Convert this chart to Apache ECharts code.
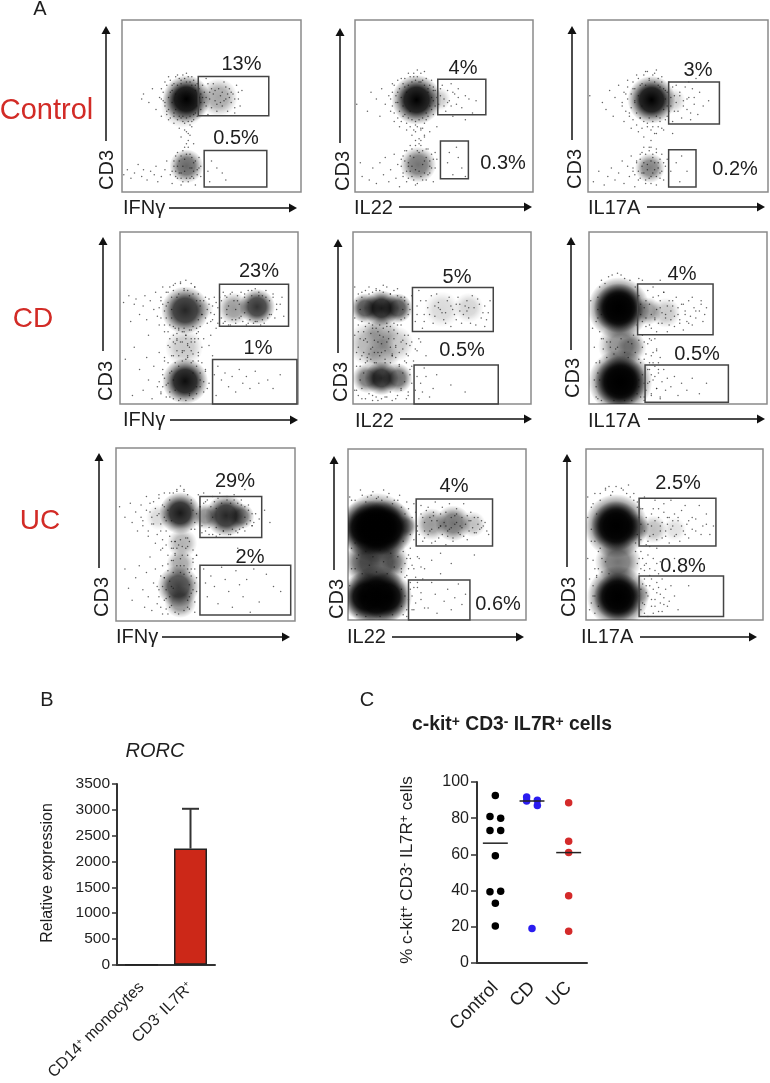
<!DOCTYPE html>
<html><head><meta charset="utf-8">
<style>html,body{margin:0;padding:0;background:#fff}#c{width:770px;height:1083px}</style>
<script src="https://cdn.jsdelivr.net/npm/echarts@6/dist/echarts.min.js"></script></head>
<body><div id="c"></div>
<script>
// ---------- DATA ----------
// Flow panels: clouds are [x%, y%, spread, density]; events are [x%, y%]; gates are [x0,x1,y0,y1] in %.
const clouds_ctrl_ifn=[[36,54,48,1],[34,50,44,.3],[54,55,38,.35],[36,15,34,.6]];
const clouds_ctrl_il22=[[34.6,53.6,50,1],[35.5,15.9,36,.55],[47,54,24,.2]];
const clouds_ctrl_il17=[[35.3,53.6,48,1],[34.4,14,30,.5],[47,53,26,.18]];
const clouds_cd_ifn=[[36.6,54.5,48,.85],[36.6,13.3,46,.95],[77,56.5,36,.8],[64,55.5,32,.4],[36,33,38,.22],[47,55,20,.15]];
const clouds_cd_il22=[[7,55.7,30,.7],[16,55.7,36,.9],[25,55.7,30,.7],[8,15,30,.55],[16,15,34,.85],[25,15,30,.6],[10,35,46,.3],[24,35,36,.22],[16,42,36,.25],[16,28,36,.25],[50,55,36,.15],[65,56,30,.17]];
const clouds_cd_il17=[[16.7,55.7,62,1],[16.7,55.7,50,1],[17.6,13,64,1],[17.6,13,52,1],[18,34,46,.45],[24,33,30,.3],[33,54,28,.4],[43,53,30,.22]];
const clouds_uc_ifn=[[35.8,62.4,42,.9],[61.5,60.9,42,.85],[50,60.5,26,.45],[70,60.5,26,.55],[34.8,20,42,.75],[36,11,32,.45],[36,33,28,.35],[37,45,30,.3],[24,60,26,.15]];
const clouds_uc_il22=[[16,54,70,1],[10,54,56,1],[22,54,56,1],[16,54,56,1],[16,13.6,62,1],[10,13.6,50,1],[22,13.6,50,1],[16,34,64,.65],[8,34,36,.35],[26,34,26,.3],[47,56,32,.4],[59,56.5,36,.55],[70,56,26,.25],[33,55,22,.4]];
const clouds_uc_il17=[[17,55,64,1],[17,55,50,1],[18,13.6,62,1],[18,13.6,48,1],[18,34,46,.55],[28,54,28,.4],[38,53,28,.25],[50,53,24,.12],[31,15,20,.25]];

const events_ctrl_ifn=[[12,57],[15,52],[11,54],[17,60],[19,48],[22,60],[22,44],[24,64],[26,42],[26,67],[28,62],[29,46],[29,40],[31,68],[32,37],[33,65],[34,41],[35,36],[36,69],[37,34],[38,39],[39,67],[40,42],[41,62],[42,44],[24,50],[21,55],[27,58],[25,47],[23,53],[33,32],[37,30],[40,28],[38,33],[44,48],[45,62],[46,52],[47,66],[48,45],[49,58],[50,49],[51,63],[52,53],[53,47],[54,60],[55,56],[56,50],[57,64],[58,54],[59,47],[60,60],[61,52],[62,57],[63,49],[64,62],[65,54],[66,50],[67,59],[63,46],[58,61],[48,63],[51,57],[55,52],[60,55],[1,10],[3,13],[5,8],[7,11],[9,16],[11,9],[12,13],[14,7],[16,12],[18,10],[19,15],[20,6],[22,9],[24,13],[25,18],[27,10],[28,5],[29,15],[30,21],[31,8],[32,18],[33,4],[34,24],[35,12],[36,28],[37,6],[38,22],[39,9],[40,17],[41,4],[42,13],[43,20],[44,9],[33,11],[38,14],[35,19],[40,12],[30,12],[48,12],[50,18],[53,14],[56,11],[58,7],[49,6]];
const fringe_ctrl_ifn=[[22,54],[23,58],[24,52],[25,62],[25,45],[26,55],[26,48],[27,65],[27,43],[28,52],[28,59],[29,63],[29,44],[30,48],[30,67],[30,57],[31,42],[31,62],[32,66],[32,44],[33,63],[33,43],[34,68],[34,44],[35,40],[35,66],[36,64],[36,43],[37,67],[37,41],[38,64],[38,44],[39,62],[39,41],[40,65],[40,45],[41,59],[41,46],[42,63],[42,50],[43,55],[43,60],[44,52],[44,57],[45,55],[46,58],[47,50],[47,55],[49,54],[50,60],[52,59],[53,51],[56,58],[57,53],[59,57],[61,58],[63,54],[65,58],[28,12],[29,18],[30,9],[31,15],[31,23],[32,11],[33,8],[33,21],[34,15],[34,6],[35,26],[36,8],[36,22],[37,26],[38,8],[39,20],[39,14],[40,8],[41,18],[42,10],[43,14],[44,15],[36,35],[39,38]];
const events_ctrl_il22=[[1,51],[7,47],[9,58],[12,54],[14,44],[15,60],[17,51],[19,56],[20,47],[21,63],[22,41],[23,52],[24,58],[25,38],[26,66],[27,44],[28,61],[29,36],[30,69],[31,47],[32,33],[33,67],[34,39],[35,71],[36,31],[37,64],[38,37],[39,70],[40,42],[41,60],[42,35],[43,65],[44,45],[45,59],[46,38],[37,27],[39,32],[34,30],[48,56],[49,62],[50,50],[51,47],[52,59],[53,53],[54,63],[55,44],[56,57],[57,51],[58,60],[60,49],[62,56],[64,54],[68,53],[66,46],[62,42],[44,61],[47,51],[3,17],[4,9],[8,7],[10,14],[12,5],[14,17],[16,10],[17,20],[19,6],[20,13],[22,22],[23,8],[24,16],[25,3],[26,19],[27,11],[28,24],[29,6],[30,15],[31,27],[32,9],[33,20],[34,4],[35,24],[36,12],[37,30],[38,7],[39,18],[40,25],[41,10],[42,15],[43,22],[44,6],[45,14],[46,19],[52,17],[55,10],[58,20],[60,14],[53,23],[57,26],[62,9]];
const fringe_ctrl_il22=[[20,54],[21,50],[21,58],[22,62],[22,46],[23,56],[24,52],[24,43],[24,65],[25,60],[25,47],[26,41],[26,55],[27,63],[27,50],[28,45],[28,66],[29,58],[29,40],[30,62],[30,43],[31,67],[31,38],[32,64],[32,42],[33,36],[33,69],[34,41],[34,65],[35,38],[35,67],[36,42],[36,64],[37,37],[37,69],[38,43],[38,65],[39,40],[39,62],[40,46],[40,66],[41,44],[41,58],[42,50],[42,62],[43,48],[43,55],[44,53],[44,59],[45,50],[46,55],[48,60],[50,54],[52,52],[54,50],[55,58],[58,55],[26,15],[27,9],[27,21],[28,18],[29,12],[29,24],[30,8],[30,17],[31,21],[31,12],[32,25],[32,15],[33,7],[34,27],[34,13],[35,5],[36,23],[36,28],[37,9],[38,24],[38,16],[39,11],[40,20],[40,7],[41,25],[42,18],[42,11],[43,14],[44,19],[45,23],[34,35],[37,36],[39,33]];
const events_ctrl_il17=[[1,56],[8,52],[10,48],[12,59],[14,44],[15,55],[17,62],[19,50],[20,41],[21,57],[22,65],[23,46],[24,37],[25,60],[26,52],[27,68],[28,35],[29,43],[30,63],[31,32],[32,70],[33,40],[34,66],[35,30],[36,38],[37,69],[38,34],[39,62],[40,41],[41,67],[42,36],[43,59],[44,44],[45,64],[46,50],[47,41],[48,56],[49,62],[50,47],[51,58],[52,43],[53,53],[54,61],[55,48],[56,55],[57,42],[58,60],[59,51],[61,45],[62,58],[64,50],[67,53],[60,66],[56,64],[47,34],[35,26],[38,23],[3,6],[6,12],[9,4],[11,9],[13,14],[15,7],[17,11],[19,18],[20,5],[22,15],[23,9],[24,21],[25,12],[26,3],[27,17],[28,7],[29,22],[30,11],[31,26],[32,5],[33,16],[34,24],[35,9],[36,20],[37,13],[38,4],[39,17],[40,11],[41,22],[42,7],[43,15],[44,19],[46,12],[49,17],[52,21],[55,12],[51,6]];
const fringe_ctrl_il17=[[19,52],[20,58],[21,47],[22,54],[22,61],[23,44],[24,57],[24,49],[25,64],[25,42],[26,53],[26,60],[27,46],[27,39],[28,66],[28,56],[29,43],[29,62],[30,37],[30,50],[31,68],[31,41],[32,62],[33,38],[33,70],[34,43],[34,65],[35,36],[36,68],[36,41],[37,64],[37,34],[38,44],[38,71],[39,38],[39,66],[40,43],[40,61],[41,37],[41,64],[42,48],[42,60],[43,54],[43,42],[44,58],[44,50],[45,47],[46,55],[47,61],[48,47],[49,52],[51,56],[53,50],[55,54],[57,46],[59,55],[25,14],[26,10],[27,18],[28,12],[29,19],[29,8],[30,15],[30,23],[31,11],[31,17],[32,7],[32,22],[33,13],[34,26],[34,8],[35,18],[35,5],[36,22],[36,11],[37,17],[38,9],[38,25],[39,14],[40,19],[40,8],[41,12],[42,17]];
const events_cd_ifn=[[2,59],[5,63],[6,48],[8,58],[9,61],[11,52],[13,57],[14,63],[15,49],[16,40],[17,60],[19,55],[20,65],[21,51],[22,46],[23,60],[24,68],[25,42],[26,57],[27,65],[28,38],[29,50],[30,69],[31,35],[32,62],[33,44],[34,70],[35,31],[36,66],[37,40],[38,28],[39,63],[40,36],[41,25],[42,68],[43,44],[44,30],[45,60],[46,52],[47,38],[48,62],[49,47],[50,58],[51,53],[52,49],[53,62],[54,44],[55,56],[56,50],[57,60],[58,47],[59,63],[60,52],[61,57],[62,46],[63,65],[65,49],[66,60],[68,51],[70,64],[72,47],[74,66],[76,48],[78,63],[80,49],[82,66],[84,52],[86,62],[88,55],[90,58],[92,51],[91,62],[3,26],[7,5],[8,33],[11,20],[13,8],[15,27],[16,14],[18,3],[19,22],[21,10],[22,30],[23,6],[24,17],[25,25],[26,11],[27,34],[28,4],[29,19],[30,28],[31,8],[32,37],[33,22],[34,3],[35,30],[36,42],[37,26],[38,35],[39,6],[40,31],[41,18],[42,38],[43,10],[44,25],[45,14],[46,33],[47,7],[48,20],[50,12],[51,40],[53,17],[54,5],[55,22],[57,14],[59,18],[61,10],[63,16],[65,7],[67,20],[69,12],[71,16],[73,9],[76,19],[78,12],[83,14],[86,9],[90,17],[30,45],[44,42],[50,34],[52,28]];
const fringe_cd_ifn=[[22,56],[23,50],[23,62],[24,58],[25,46],[25,54],[26,65],[26,50],[27,42],[27,59],[28,68],[28,46],[29,55],[29,62],[30,40],[30,66],[31,44],[31,70],[32,38],[33,64],[33,43],[34,71],[35,36],[35,42],[36,67],[37,40],[37,72],[38,34],[38,66],[39,43],[40,70],[40,38],[41,45],[41,64],[42,68],[43,41],[43,60],[44,49],[44,64],[45,57],[45,45],[46,52],[47,60],[48,50],[49,55],[50,61],[51,48],[52,57],[53,52],[54,59],[55,47],[56,62],[57,50],[58,65],[59,48],[60,62],[61,46],[62,64],[63,49],[64,60],[65,47],[66,63],[67,50],[68,65],[69,48],[70,62],[71,46],[72,66],[73,49],[74,63],[75,47],[76,67],[77,48],[78,65],[79,46],[80,63],[81,47],[82,62],[83,50],[84,60],[85,52],[86,64],[87,50],[88,58],[65,55],[70,53],[72,59],[67,58],[60,55],[22,13],[23,7],[24,20],[24,10],[25,15],[25,27],[26,4],[27,12],[27,24],[28,18],[28,7],[29,28],[30,14],[30,3],[31,24],[32,31],[33,2],[33,28],[34,36],[35,25],[36,31],[37,2],[37,38],[38,27],[39,5],[39,33],[40,24],[41,3],[41,29],[42,36],[43,22],[43,6],[44,28],[45,18],[45,10],[46,24],[47,13],[48,19],[49,9],[36,44],[32,41],[40,43],[44,38],[30,36],[28,33]];
const events_cd_il22=[[1,68],[3,42],[5,65],[7,38],[9,68],[11,44],[13,66],[15,40],[17,69],[19,45],[21,64],[23,43],[25,67],[27,46],[29,62],[31,40],[33,63],[35,48],[37,66],[39,44],[41,60],[43,52],[45,47],[47,64],[49,55],[51,49],[53,60],[55,45],[57,52],[59,62],[61,47],[63,57],[65,50],[67,63],[69,46],[71,58],[73,53],[75,49],[77,60],[74,45],[36,57],[40,52],[46,57],[52,53],[58,58],[64,54],[2,30],[4,22],[6,37],[8,27],[10,32],[12,24],[14,36],[16,30],[18,24],[20,38],[22,28],[24,33],[26,23],[28,37],[30,29],[32,34],[34,25],[36,31],[38,36],[41,28],[2,8],[5,3],[8,25],[11,5],[14,2],[18,4],[21,7],[24,3],[27,8],[29,25],[31,5],[33,12],[32,20],[35,8],[36,16],[37,3],[38,12],[39,7],[41,16],[43,4],[45,9],[47,17],[40,21],[55,11],[63,7]];
const fringe_cd_il22=[[1,50],[2,60],[3,46],[3,64],[5,48],[5,62],[7,45],[7,66],[9,47],[9,64],[11,46],[11,65],[13,44],[13,67],[15,46],[15,66],[17,44],[17,65],[19,47],[19,68],[21,45],[21,64],[23,47],[23,66],[25,46],[25,63],[27,49],[27,62],[29,50],[29,60],[31,52],[31,58],[4,55],[28,55],[32,55],[1,40],[3,33],[4,38],[6,30],[6,42],[8,36],[9,29],[10,41],[11,33],[12,37],[14,30],[14,42],[16,35],[17,39],[18,31],[19,36],[20,42],[21,33],[22,29],[23,38],[24,34],[25,41],[26,30],[27,36],[28,32],[29,40],[30,35],[31,28],[33,36],[35,32],[37,38],[1,8],[2,22],[3,5],[4,14],[4,26],[5,9],[6,18],[7,3],[7,24],[9,6],[10,26],[11,2],[13,24],[13,4],[15,28],[16,3],[18,26],[19,4],[21,24],[22,2],[24,27],[25,5],[26,22],[27,9],[28,18],[29,13],[30,24],[31,7],[32,17],[33,22],[30,3],[5,28],[12,30],[22,28],[36,52],[38,60],[40,48],[42,56],[44,63],[46,51],[48,59],[50,53],[52,47],[54,62],[56,55],[58,49],[60,58],[62,52],[64,60],[66,47],[68,56],[70,61],[72,50],[74,57],[76,53],[55,57],[60,54],[65,56],[48,56]];
const events_cd_il17=[[1,60],[2,44],[3,33],[4,24],[5,50],[6,14],[7,38],[4,4],[33,66],[35,44],[36,68],[37,50],[38,42],[39,63],[40,56],[41,47],[42,65],[43,52],[44,42],[45,60],[46,49],[47,57],[48,45],[49,62],[50,52],[51,47],[52,58],[53,43],[54,54],[55,48],[56,60],[57,51],[58,46],[59,56],[60,50],[62,54],[64,48],[66,56],[63,60],[30,72],[28,73],[40,72],[33,35],[35,28],[37,38],[39,24],[31,26],[33,12],[34,20],[35,6],[36,14],[37,22],[38,9],[39,18],[40,4],[41,13],[42,20],[43,8],[44,15],[46,10],[48,16],[50,5],[52,12],[55,8],[58,15],[62,6],[66,12],[38,32],[35,17],[30,40],[32,45],[34,38],[29,24],[27,6],[28,14],[31,4],[14,2],[20,2]];
const fringe_cd_il17=[[5,55],[4,48],[5,62],[6,42],[6,68],[7,52],[7,72],[8,38],[9,70],[10,36],[11,74],[12,33],[13,75],[15,32],[16,76],[18,75],[20,73],[22,36],[23,72],[25,40],[26,68],[27,46],[28,63],[29,52],[29,58],[30,48],[31,56],[32,50],[32,60],[34,46],[34,58],[35,52],[36,62],[37,49],[38,55],[39,47],[40,60],[41,53],[42,65],[43,50],[44,57],[45,46],[46,54],[47,60],[48,51],[50,56],[51,49],[53,58],[54,52],[56,47],[58,62],[60,54],[63,58],[65,52],[6,25],[8,32],[10,27],[12,36],[14,29],[16,33],[18,38],[20,30],[22,27],[24,35],[26,30],[28,26],[30,33],[32,29],[34,24],[28,37],[31,36],[36,30],[35,37],[38,31],[40,27],[4,10],[5,3],[5,18],[6,24],[3,14],[28,10],[29,4],[30,17],[31,12],[31,2],[32,8],[33,20],[34,13],[35,5],[36,24],[37,16],[38,9],[39,20],[40,3],[7,2],[24,2]];
const events_uc_ifn=[[2,66],[5,60],[8,68],[9,57],[11,63],[12,52],[14,67],[15,58],[17,72],[18,49],[19,63],[20,56],[21,69],[22,45],[23,61],[24,73],[25,52],[26,42],[27,66],[28,58],[29,38],[30,74],[31,46],[32,35],[34,76],[36,32],[38,75],[40,43],[41,28],[42,70],[43,36],[44,53],[45,25],[46,73],[47,66],[48,51],[49,74],[50,69],[52,50],[54,72],[56,49],[58,74],[60,52],[62,70],[64,50],[66,73],[68,51],[70,70],[72,52],[74,67],[76,55],[78,62],[80,59],[83,64],[86,57],[68,42],[72,76],[5,30],[7,19],[9,12],[11,25],[13,32],[15,18],[16,8],[17,28],[18,14],[19,37],[20,6],[21,22],[22,30],[23,10],[24,18],[25,41],[26,4],[27,25],[28,13],[29,33],[30,8],[31,20],[32,42],[40,8],[41,14],[42,30],[43,18],[45,38],[44,5],[49,30],[50,22],[51,14],[53,26],[55,20],[57,10],[59,31],[61,24],[63,17],[65,8],[67,29],[69,21],[71,14],[73,24],[77,30],[80,11],[88,20],[92,17],[84,27],[75,5]];
const fringe_uc_ifn=[[14,60],[15,55],[17,64],[18,52],[19,68],[20,60],[21,56],[22,65],[23,50],[24,62],[24,71],[25,56],[26,67],[26,47],[27,60],[27,74],[28,52],[28,44],[29,64],[30,70],[30,49],[31,42],[31,58],[32,74],[33,46],[33,39],[34,75],[35,44],[36,36],[36,78],[37,43],[38,76],[38,32],[39,48],[40,73],[40,38],[41,46],[42,68],[42,53],[43,64],[43,41],[44,57],[44,30],[45,62],[45,38],[47,66],[48,55],[49,68],[50,52],[51,70],[52,54],[53,66],[54,50],[55,69],[56,54],[57,71],[58,50],[59,68],[60,52],[62,72],[63,50],[64,68],[65,53],[66,70],[67,52],[68,68],[69,53],[70,67],[71,54],[72,66],[73,56],[74,64],[75,58],[76,62],[77,57],[54,60],[56,65],[72,60],[76,55],[23,20],[24,14],[25,26],[25,8],[26,20],[26,32],[27,12],[27,25],[28,7],[28,18],[29,29],[29,4],[30,14],[30,23],[31,35],[31,9],[32,19],[32,28],[33,5],[33,38],[34,32],[35,4],[36,28],[37,38],[38,6],[38,27],[39,42],[40,12],[40,30],[41,21],[41,7],[42,26],[42,16],[43,34],[44,22],[44,11],[45,17],[34,42],[36,47],[40,48],[33,46]];
const events_uc_il22=[[2,70],[5,36],[8,73],[11,72],[14,75],[17,72],[20,76],[23,74],[26,70],[29,73],[31,46],[33,69],[35,42],[37,68],[39,52],[41,67],[43,48],[45,66],[47,45],[49,69],[51,48],[53,66],[55,44],[57,68],[59,46],[61,65],[63,50],[65,68],[67,47],[69,63],[71,51],[73,60],[75,54],[77,57],[79,50],[42,60],[46,52],[48,61],[52,55],[56,52],[60,61],[64,54],[68,58],[34,38],[36,32],[38,25],[39,19],[41,12],[43,30],[45,7],[47,22],[49,15],[50,4],[52,27],[54,11],[56,18],[58,6],[60,13],[62,21],[64,9],[66,15],[35,22],[36,14],[37,6],[40,36],[47,35],[52,39],[58,33],[71,38],[30,30],[32,25],[33,36],[30,8],[33,2],[25,3],[18,2],[10,2],[5,3],[2,30],[4,45],[1,20]];
const fringe_uc_il22=[[1,72],[4,70],[7,76],[10,69],[13,73],[16,71],[19,70],[22,72],[25,68],[28,70],[30,66],[32,62],[34,65],[35,50],[36,60],[37,47],[38,63],[39,55],[40,50],[41,62],[42,46],[43,57],[44,64],[45,50],[46,60],[47,53],[48,63],[49,46],[50,58],[51,54],[52,62],[53,50],[54,57],[55,63],[56,49],[57,53],[58,60],[59,48],[60,56],[61,62],[62,51],[63,55],[64,60],[65,49],[66,56],[67,61],[68,52],[69,58],[70,54],[71,60],[72,51],[73,56],[74,53],[75,58],[76,55],[78,52],[58,54],[55,55],[61,57],[52,55],[47,58],[43,52],[2,42],[4,30],[6,38],[8,27],[10,40],[12,32],[14,37],[16,28],[18,41],[20,34],[22,27],[24,39],[26,31],[28,37],[30,28],[31,40],[32,33],[33,26],[34,30],[35,36],[33,6],[32,14],[31,3],[30,18],[34,12],[35,18],[36,6],[37,19],[38,10],[39,22],[41,16],[43,7],[37,30],[39,37],[41,31],[42,24]];
const events_uc_il17=[[1,72],[3,66],[5,74],[8,70],[11,76],[14,73],[17,78],[21,76],[24,79],[27,74],[29,69],[31,65],[33,72],[35,46],[37,62],[38,50],[39,70],[40,42],[41,65],[42,55],[43,48],[44,68],[45,52],[46,60],[47,45],[48,70],[49,55],[50,62],[51,50],[52,58],[53,46],[54,64],[55,52],[56,67],[57,56],[58,48],[60,60],[62,52],[64,67],[66,55],[68,62],[70,50],[1,36],[2,24],[3,46],[4,14],[5,30],[2,6],[31,30],[33,24],[35,38],[30,36],[31,18],[32,10],[33,4],[34,20],[35,14],[36,26],[37,8],[38,18],[39,12],[40,22],[41,5],[42,15],[43,24],[44,9],[33,32],[28,40],[45,18],[47,11],[40,33],[50,36],[54,28],[58,20]];
const fringe_uc_il17=[[1,60],[3,53],[4,68],[5,46],[6,62],[7,40],[8,74],[9,36],[11,77],[13,78],[15,75],[20,77],[23,74],[25,72],[27,70],[28,45],[29,66],[29,50],[30,60],[31,56],[31,47],[32,65],[33,52],[34,60],[35,56],[36,49],[37,55],[38,65],[39,58],[40,47],[41,60],[42,52],[43,57],[44,63],[45,49],[46,56],[47,60],[48,53],[49,58],[50,49],[52,60],[54,55],[56,50],[58,58],[60,53],[62,59],[65,50],[68,56],[72,55],[36,43],[34,44],[4,35],[6,26],[7,30],[8,42],[9,28],[11,34],[13,27],[29,33],[30,27],[31,40],[32,36],[33,29],[34,33],[36,30],[37,24],[38,36],[39,29],[41,27],[42,34],[3,10],[4,20],[5,4],[5,14],[6,25],[7,8],[30,14],[31,6],[32,21],[33,9],[34,16],[35,2],[36,20],[37,12],[38,4],[39,8],[40,16],[41,19],[42,10],[43,5],[44,13],[46,8],[48,20],[50,14],[52,6]];

const gates_ctrl_ifn=[[42.6,82,44.3,67.1],[45.9,80.9,2.9,24.2]];
const gates_ctrl_il22=[[46.5,73.5,44.9,65.6],[48,63.7,7.7,29.6]];
const gates_ctrl_il17=[[44.8,73,39.5,64],[44.8,60,2.9,24.6]];
const gates_cd_ifn=[[55.9,94.7,45.2,69.6],[52,99.4,0,25.9]];
const gates_cd_il22=[[33.4,78.8,42.1,67.8],[34.3,81.6,0,22.7]];
const gates_cd_il17=[[27.3,69.7,40.2,69.7],[31.5,78.3,1,22.7]];
const gates_uc_ifn=[[46.9,81.4,48.2,71.9],[46.9,97.6,3.5,32.2]];
const gates_uc_il22=[[38.3,81.2,43.3,70.8],[34,68.5,0,23.4]];
const gates_uc_il17=[[30,73.4,43.3,71.2],[30,77.7,2,25.7]];

const markers=['IFNγ','IL22','IL17A'];
const groupNames=['Control','CD','UC'];
const pctLabels=[['13%','0.5%'],['4%','0.3%'],['3%','0.2%'],['23%','1%'],['5%','0.5%'],['4%','0.5%'],['29%','2%'],['4%','0.6%'],['2.5%','0.8%']];

// Panel B
const rorcCategories=['CD14+ monocytes','CD3- IL7R+'];
const rorcMeans=[0,2250];
const rorcUpper=[null,3020];
const rorcTicks={min:0,max:3500,interval:500};
// Panel C: [x-jitter position, value]
const groupC=['Control','CD','UC'];
const controlPoints=[[0,92.5],[-0.146,81],[0.146,80],[-0.146,73.2],[0.146,73.2],[0,59.3],[-0.146,39.4],[0.146,39.6],[0,33],[0,20.5]];
const cdPoints=[[0.854,91.7],[0.854,89.5],[1.146,89.9],[1.146,87],[1,19]];
const ucPoints=[[2,88.6],[2,67.2],[2,61],[2,37.2],[2,17.6]];
const groupMeans=[66.2,89.5,61];

// ---------- LAYOUT ----------
const FONT='"Liberation Sans",Arial,sans-serif';
const RED='#d22b26',INK='#1e1e1e';
const panels=[
{c:clouds_ctrl_ifn,e:events_ctrl_ifn.concat(fringe_ctrl_ifn),g:gates_ctrl_ifn,m:0,l:122,r:301,t:20,b:192,vx:106,vt:26,vb:141,cx:107,cy:170,lx:123,ly:208,ax0:169,ax1:297,ay:208,p:[[241.5,64],[236,138]]},
{c:clouds_ctrl_il22,e:events_ctrl_il22.concat(fringe_ctrl_il22),g:gates_ctrl_il22,m:1,l:355,r:533,t:20,b:192,vx:340,vt:28,vb:143,cx:343,cy:171,lx:354,ly:208,ax0:399,ax1:532,ay:207,p:[[463,68],[503,163]]},
{c:clouds_ctrl_il17,e:events_ctrl_il17.concat(fringe_ctrl_il17),g:gates_ctrl_il17,m:2,l:588,r:768,t:20,b:192,vx:572,vt:26,vb:140,cx:575,cy:169,lx:588,ly:208,ax0:647,ax1:765,ay:207,p:[[698,70],[735,169]]},
{c:clouds_cd_ifn,e:events_cd_ifn.concat(fringe_cd_ifn),g:gates_cd_ifn,m:0,l:120,r:298,t:232,b:404,vx:103,vt:237,vb:351,cx:106,cy:381,lx:123,ly:420,ax0:170,ax1:298,ay:420,p:[[259,271],[258,348]]},
{c:clouds_cd_il22,e:events_cd_il22.concat(fringe_cd_il22),g:gates_cd_il22,m:1,l:353,r:531,t:232,b:404,vx:338,vt:239,vb:353,cx:341,cy:382,lx:355,ly:421,ax0:400,ax1:532,ay:419,p:[[457,277],[462,350]]},
{c:clouds_cd_il17,e:events_cd_il17.concat(fringe_cd_il17),g:gates_cd_il17,m:2,l:589,r:767,t:232,b:404,vx:571,vt:237,vb:350,cx:573,cy:378,lx:588,ly:421,ax0:648,ax1:765,ay:419,p:[[682,274],[697,354]]},
{c:clouds_uc_ifn,e:events_uc_ifn.concat(fringe_uc_ifn),g:gates_uc_ifn,m:0,l:116,r:295,t:448,b:621,vx:99,vt:453,vb:568,cx:102,cy:597,lx:116,ly:637,ax0:162,ax1:290,ay:637,p:[[235,481],[250,557]]},
{c:clouds_uc_il22,e:events_uc_il22.concat(fringe_uc_il22),g:gates_uc_il22,m:1,l:348,r:526,t:449,b:620,vx:334,vt:456,vb:570,cx:337,cy:599,lx:347,ly:637,ax0:392,ax1:524,ay:637,p:[[454,486],[498,604]]},
{c:clouds_uc_il17,e:events_uc_il17.concat(fringe_uc_il17),g:gates_uc_il17,m:2,l:586,r:763,t:449,b:620,vx:567,vt:454,vb:567,cx:569,cy:597,lx:581,ly:637,ax0:640,ax1:757,ay:637,p:[[678,483],[683,566]]}
];
const grids=[],xAxes=[],yAxes=[],series=[],graphic=[];
function txt(s,x,y,size,o){o=o||{};graphic.push({type:'text',x:x,y:y,rotation:o.rot||0,z:50,style:Object.assign({text:s,fill:o.color||INK,font:(o.style?o.style+' ':'')+size+'px '+FONT,align:o.align||'center',verticalAlign:'middle'},o.extra||{})});}
function arrowV(x,t,b){graphic.push({type:'line',z:50,shape:{x1:x,y1:b,x2:x,y2:t+5},style:{stroke:'#111',lineWidth:1.5}});
 graphic.push({type:'polygon',z:50,shape:{points:[[x,t],[x-4.5,t+8],[x+4.5,t+8]]},style:{fill:'#111'}});}
function arrowH(a,b,y){graphic.push({type:'line',z:50,shape:{x1:a,y1:y,x2:b-5,y2:y},style:{stroke:'#111',lineWidth:1.5}});
 graphic.push({type:'polygon',z:50,shape:{points:[[b,y],[b-8,y-4.5],[b-8,y+4.5]]},style:{fill:'#111'}});}
function cloudColor(a){return new echarts.graphic.RadialGradient(.5,.5,.5,[{offset:0,color:'rgba(0,0,0,'+a+')'},{offset:.5,color:'rgba(0,0,0,'+(a*.85)+')'},{offset:.8,color:'rgba(0,0,0,'+(a*.3)+')'},{offset:1,color:'rgba(0,0,0,0)'}]);}
panels.forEach(function(p,i){
 grids.push({left:p.l,top:p.t,width:p.r-p.l,height:p.b-p.t,show:true,borderColor:'#8a8a8a',borderWidth:1.5,backgroundColor:'#fff'});
 xAxes.push({gridIndex:i,type:'value',min:0,max:100,show:false});
 yAxes.push({gridIndex:i,type:'value',min:0,max:100,show:false});
 series.push({type:'custom',xAxisIndex:i,yAxisIndex:i,clip:true,silent:true,animation:false,z:2,data:p.c,encode:{x:0,y:1},
   renderItem:function(params,api){var c=api.coord([api.value(0),api.value(1)]);
     return {type:'circle',shape:{cx:c[0],cy:c[1],r:api.value(2)/2},style:{fill:cloudColor(api.value(3))}};}});
 series.push({type:'scatter',xAxisIndex:i,yAxisIndex:i,clip:true,silent:true,animation:false,z:3,
   symbolSize:1.5,itemStyle:{color:'#111',opacity:.65},data:p.e});
 series.push({type:'custom',xAxisIndex:i,yAxisIndex:i,silent:true,animation:false,z:4,clip:false,data:p.g,encode:{x:[0,1],y:[2,3]},
   renderItem:function(params,api){var a=api.coord([api.value(0),api.value(3)]),b=api.coord([api.value(1),api.value(2)]);
     return {type:'rect',shape:{x:a[0],y:a[1],width:b[0]-a[0],height:b[1]-a[1]},style:{fill:'none',stroke:'#444',lineWidth:1.5}};}});
 arrowV(p.vx,p.vt,p.vb);
 arrowH(p.ax0,p.ax1,p.ay);
 txt('CD3',p.cx,p.cy,20,{rot:Math.PI/2});
 txt(markers[p.m],p.lx,p.ly,20,{align:'left'});
 p.p.forEach(function(c,j){txt(pctLabels[i][j],c[0],c[1],20);});
});
txt(groupNames[0],46.5,111,29,{color:RED});
txt(groupNames[1],33,319,28,{color:RED});
txt(groupNames[2],40,521,28,{color:RED});
txt('A',40,9,20);txt('B',47,700,20);txt('C',367,700,20);

// Panel B
var bi=grids.length;
grids.push({left:117,top:784,width:98,height:183});
xAxes.push({gridIndex:bi,type:'category',data:rorcCategories,axisTick:{alignWithLabel:true,length:4,lineStyle:{color:'#333',width:1.5}},
 axisLine:{lineStyle:{color:'#333',width:2}},
 axisLabel:{rotate:45,margin:20,interval:0,fontFamily:FONT,color:INK,fontSize:16,
  formatter:function(v){return v==='CD14+ monocytes'?'{a|CD14}{s|+}{a| monocytes}':'{a|CD3}{s|-}{a| IL7R}{s|+}';},
  rich:{a:{fontSize:16,fontFamily:FONT,color:INK},s:{fontSize:9,fontFamily:FONT,color:INK,verticalAlign:'top'}}}});
yAxes.push({gridIndex:bi,type:'value',min:rorcTicks.min,max:rorcTicks.max,interval:rorcTicks.interval,splitLine:{show:false},
 axisLine:{show:true,onZero:false,lineStyle:{color:'#333',width:2}},axisTick:{show:true,length:5,lineStyle:{color:'#333',width:1.5}},
 axisLabel:{fontFamily:FONT,color:INK,fontSize:15.5,margin:7,formatter:function(v){return String(v);}}});
series.push({type:'custom',xAxisIndex:bi,yAxisIndex:bi,silent:true,animation:false,z:3,clip:false,
 data:rorcCategories.map(function(c,i){return [i,rorcMeans[i],rorcUpper[i]];}).filter(function(d){return d[2]!==null;}),encode:{x:0,y:[1,2]},
 renderItem:function(params,api){var a=api.coord([api.value(0),api.value(1)]),b=api.coord([api.value(0),api.value(2)]);
   var st={stroke:'#333',lineWidth:2};
   return {type:'group',children:[{type:'line',shape:{x1:a[0],y1:a[1],x2:b[0],y2:b[1]},style:st},{type:'line',shape:{x1:b[0]-8.5,y1:b[1],x2:b[0]+8.5,y2:b[1]},style:st}]};}});
series.push({type:'bar',xAxisIndex:bi,yAxisIndex:bi,silent:true,animation:false,z:4,barWidth:33,data:rorcMeans,itemStyle:{color:'#cc2818',borderColor:'#222',borderWidth:1.5}});
txt('RORC',155,751,20,{style:'italic'});
txt('Relative expression',48,873,16,{rot:Math.PI/2});

// Panel C
var ci=grids.length;
grids.push({left:477,top:782,width:110,height:181});
xAxes.push({gridIndex:ci,type:'category',data:groupC,axisTick:{alignWithLabel:true,length:5,lineStyle:{color:'#333',width:1.5}},
 axisLine:{lineStyle:{color:'#333',width:2}},axisLabel:{rotate:45,margin:22,interval:0,fontFamily:FONT,color:INK,fontSize:18.5}});
yAxes.push({gridIndex:ci,type:'value',min:0,max:100,interval:20,splitLine:{show:false},
 axisLine:{show:true,onZero:false,lineStyle:{color:'#333',width:2}},axisTick:{show:true,length:6,lineStyle:{color:'#333',width:1.5}},
 axisLabel:{fontFamily:FONT,color:INK,fontSize:16,margin:8}});
xAxes.push({gridIndex:ci,type:'value',min:-0.5,max:2.5,show:false});
var cx2=xAxes.length-1;
[[controlPoints,'#000'],[cdPoints,'#2a1cf0'],[ucPoints,'#d42a2a']].forEach(function(s){
 series.push({type:'scatter',xAxisIndex:cx2,yAxisIndex:ci,silent:true,animation:false,z:3,symbolSize:7.5,itemStyle:{color:s[1],opacity:1},data:s[0]});
});
series.push({type:'custom',xAxisIndex:cx2,yAxisIndex:ci,silent:true,animation:false,z:5,clip:false,data:groupMeans.map(function(m,i){return [i,m];}),encode:{x:0,y:1},
 renderItem:function(params,api){var a=api.coord([api.value(0)-.34,api.value(1)]),b=api.coord([api.value(0)+.34,api.value(1)]);
   return {type:'line',shape:{x1:a[0],y1:a[1],x2:b[0],y2:b[1]},style:{stroke:'#222',lineWidth:1.5}};}});
var supRich=function(size,weight){return {a:{fontSize:size,fontWeight:weight,fontFamily:FONT,fill:INK,color:INK},s:{fontSize:size*.72,fontWeight:weight,fontFamily:FONT,fill:INK,color:INK,verticalAlign:'top'}};};
graphic.push({type:'text',x:512,y:725,z:50,style:{text:'{a|c-kit}{s|+}{a| CD3}{s|-}{a| IL7R}{s|+}{a| cells}',align:'center',verticalAlign:'middle',rich:supRich(19.3,'bold')}});
graphic.push({type:'text',x:407,y:870,z:50,rotation:Math.PI/2,style:{text:'{a|% c-kit}{s|+}{a| CD3}{s|-}{a| IL7R}{s|+}{a| cells}',align:'center',verticalAlign:'middle',rich:supRich(17,'normal')}});

var chart=echarts.init(document.getElementById('c'),null,{renderer:'canvas'});
chart.setOption({animation:false,backgroundColor:'#fff',grid:grids,xAxis:xAxes,yAxis:yAxes,series:series,graphic:{elements:graphic}});
</script></body></html>
